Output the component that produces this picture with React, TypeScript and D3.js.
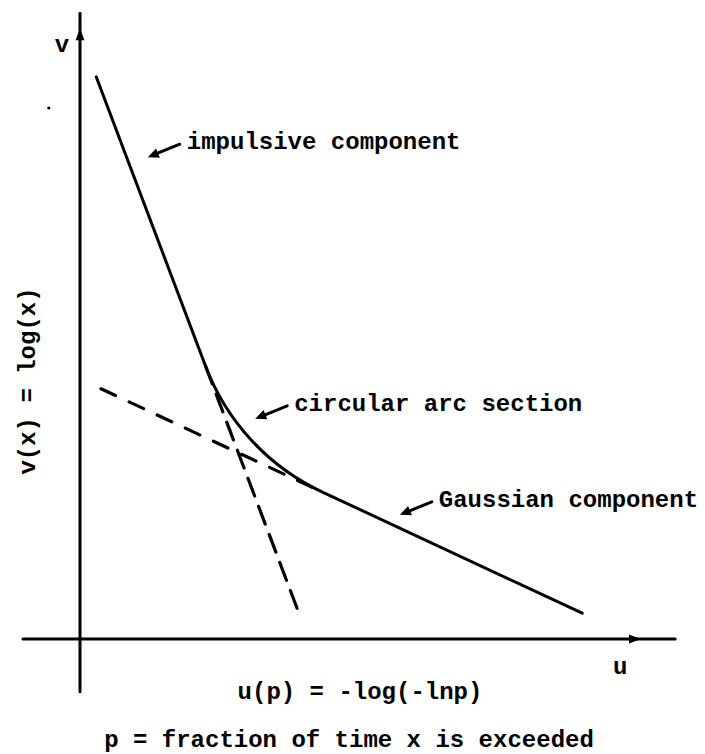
import React from 'react';
import * as d3 from 'd3';

const WIDTH = 705;
const HEIGHT = 754;

// straight components of the curve, in (u, v) units
const impulsiveLine: [number, number][] = [[0.27, 9.37], [3.63, 0.48]];
const gaussianLine: [number, number][] = [[0.35, 4.17], [8.37, 0.43]];
const arcRadius = 3.8;

const annotationText = ['impulsive component', 'circular arc section', 'Gaussian component'];
const annotationTip: [number, number][] = [[1.13, 8.03], [2.92, 3.67], [5.33, 2.07]];

const uLabel = 'u';
const vLabel = 'v';
const xTitle = 'u(p) = -log(-lnp)';
const yTitle = 'v(x) = log(x)';
const footnote = 'p = fraction of time x is exceeded';

const FONT = "'Liberation Mono', 'Courier New', monospace";

type Pt = [number, number];

function intersect(a: Pt[], b: Pt[]): Pt {
  const [[x1, y1], [x2, y2]] = a;
  const [[x3, y3], [x4, y4]] = b;
  const den = (x1 - x2) * (y3 - y4) - (y1 - y2) * (x3 - x4);
  const t = ((x1 - x3) * (y3 - y4) - (y1 - y3) * (x3 - x4)) / den;
  return [x1 + t * (x2 - x1), y1 + t * (y2 - y1)];
}

function unit(a: Pt, b: Pt): Pt {
  const dx = b[0] - a[0];
  const dy = b[1] - a[1];
  const len = Math.hypot(dx, dy);
  return [dx / len, dy / len];
}

function arrowHead(tail: Pt, tip: Pt, len = 10, half = 4.5): string {
  const [ux, uy] = unit(tail, tip);
  const bx = tip[0] - ux * len;
  const by = tip[1] - uy * len;
  return [
    [tip[0], tip[1]],
    [bx - uy * half, by + ux * half],
    [bx + uy * half, by - ux * half],
  ]
    .map((p) => p.join(','))
    .join(' ');
}

const App: React.FC = () => {
  const x = d3.scaleLinear().domain([0, 10]).range([80, 680]);
  const y = d3.scaleLinear().domain([0, 10]).range([639, 39]);

  const px = (p: Pt): Pt => [x(p[0]), y(p[1])];
  const imp = impulsiveLine.map(px);
  const gau = gaussianLine.map(px);
  const corner = intersect(imp, gau);
  const rPx = x(arcRadius) - x(0);

  // tangent points of the arc on both lines
  const dImp = unit(imp[0], imp[1]);
  const dGau = unit(gau[0], gau[1]);
  const cosPhi = dImp[0] * dGau[0] + dImp[1] * dGau[1];
  const sinPhi = Math.abs(dImp[0] * dGau[1] - dImp[1] * dGau[0]);
  const dist = rPx * (sinPhi / (1 + cosPhi));
  const t1: Pt = [corner[0] - dImp[0] * dist, corner[1] - dImp[1] * dist];
  const t2: Pt = [corner[0] + dGau[0] * dist, corner[1] + dGau[1] * dist];

  const curve = d3.path();
  curve.moveTo(imp[0][0], imp[0][1]);
  curve.arcTo(corner[0], corner[1], gau[1][0], gau[1][1], rPx);
  curve.lineTo(gau[1][0], gau[1][1]);

  const line = d3.line();

  const ox = x(0);
  const oy = y(0);
  const xEnd = x(9.92);
  const yTop = y(10.43);
  const xArrow = x(9.35);
  const yArrow = y(10.18);

  return (
    <svg
      width={WIDTH}
      height={HEIGHT}
      style={{ position: 'absolute', left: 0, top: 0, background: '#fff' }}
    >
      {/* axes */}
      <g stroke="#000" strokeWidth={3} strokeLinecap="round">
        <line x1={x(-0.95)} y1={oy} x2={xEnd} y2={oy} />
        <line x1={ox} y1={y(-0.88)} x2={ox} y2={yTop} />
      </g>
      <polygon points={arrowHead([ox - 40, oy], [xArrow, oy], 12, 4.5)} fill="#000" />
      <polygon points={arrowHead([ox, oy + 40], [ox, yArrow], 12, 4.5)} fill="#000" />

      {/* speck on the scan */}
      <circle cx={x(-0.52)} cy={y(8.85)} r={1.6} fill="#000" />

      {/* dashed extensions of the two components */}
      <path
        d={line([t1, imp[1]]) || ''}
        fill="none"
        stroke="#000"
        strokeWidth={3.2}
        strokeDasharray="19,11"
        strokeLinecap="round"
      />
      <path
        d={line([gau[0], t2]) || ''}
        fill="none"
        stroke="#000"
        strokeWidth={3.2}
        strokeDasharray="16,15"
        strokeLinecap="round"
      />

      {/* measured curve */}
      <path
        d={curve.toString()}
        fill="none"
        stroke="#000"
        strokeWidth={3}
        strokeLinecap="round"
        strokeLinejoin="round"
      />

      {/* annotations */}
      {annotationText.map((label, i) => {
        const tip = px(annotationTip[i]);
        const tail: Pt = [tip[0] + 32, tip[1] - 13];
        return (
          <g key={label}>
            <line x1={tail[0]} y1={tail[1]} x2={tip[0] + 5} y2={tip[1] - 2} stroke="#000" strokeWidth={3} strokeLinecap="round" />
            <polygon points={arrowHead(tail, tip, 11, 5)} fill="#000" />
            <text
              x={tip[0] + 39}
              y={tip[1] - 8}
              fontFamily={FONT}
              fontSize={24}
              fontWeight="bold"
            >
              {label}
            </text>
          </g>
        );
      })}

      {/* axis letters and titles */}
      <g fontFamily={FONT} fontSize={24} fontWeight="bold" fill="#000">
        <text x={ox - 18} y={yTop + 39} textAnchor="middle">
          {vLabel}
        </text>
        <text x={xEnd - 55} y={oy + 35} textAnchor="middle">
          {uLabel}
        </text>
        <text x={360} y={oy + 60} textAnchor="middle">
          {xTitle}
        </text>
        <text x={349} y={oy + 108} textAnchor="middle">
          {footnote}
        </text>
        <text transform={`translate(35, 381) rotate(-90)`} textAnchor="middle">
          {yTitle}
        </text>
      </g>
    </svg>
  );
};

export default App;
